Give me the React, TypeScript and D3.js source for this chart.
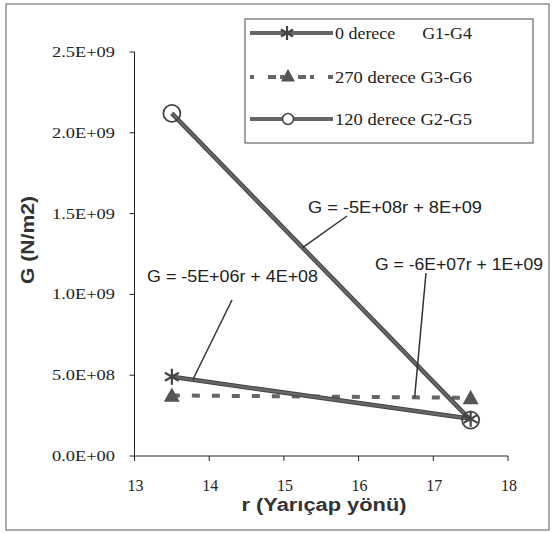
import React from "react";
import * as d3 from "d3";

const xTicks = [13, 14, 15, 16, 17, 18];
const yTicks = [0, 5e8, 1e9, 1.5e9, 2e9, 2.5e9];
const yTickLabels = ["0.0E+00", "5.0E+08", "1.0E+09", "1.5E+09", "2.0E+09", "2.5E+09"];

const rValues = [13.5, 17.5];
const g0 = [4.9e8, 2.3e8]; // 0 derece G1-G4
const g270 = [3.75e8, 3.6e8]; // 270 derece G3-G6
const g120 = [2.12e9, 2.22e8]; // 120 derece G2-G5

const seriesNames = ["0 derece      G1-G4", "270 derece G3-G6", "120 derece G2-G5"];

const annotations = [
  { text: "G = -5E+08r + 8E+09", tx: 308, ty: 213, w: 174, from: [347, 216], toR: 15.25, series: 2 },
  { text: "G = -5E+06r + 4E+08", tx: 147, ty: 282, w: 171, from: [232, 300], toR: 13.78, series: 0 },
  { text: "G = -6E+07r + 1E+09", tx: 375, ty: 270, w: 168, from: [426, 273], toR: 16.75, series: 1 },
];

const GRAY = "#666";
const DARK = "#444";

function Star({ x, y, s }: { x: number; y: number; s: number }) {
  const arms = [0, 60, 120];
  return (
    <g stroke={DARK} strokeWidth={2.2}>
      {arms.map((a) => {
        const r = (a * Math.PI) / 180;
        const dx = Math.sin(r) * s;
        const dy = Math.cos(r) * s;
        return <line key={a} x1={x - dx} y1={y - dy} x2={x + dx} y2={y + dy} />;
      })}
    </g>
  );
}

function Tri({ x, y, s }: { x: number; y: number; s: number }) {
  return <path d={`M${x},${y - s}L${x + s},${y + s * 0.8}L${x - s},${y + s * 0.8}Z`} fill="#555" />;
}

export default function App() {
  const x = d3.scaleLinear().domain([13, 18]).range([134.5, 508]);
  const y = d3.scaleLinear().domain([0, 2.5e9]).range([456, 52]);
  const line = d3
    .line<number>()
    .x((_, i) => x(rValues[i]))
    .y((d) => y(d));
  const seriesData = [g0, g270, g120];
  const serif = "'Liberation Serif', 'Times New Roman', serif";
  const sans = "'Liberation Sans', Arial, sans-serif";

  const valAt = (s: number, r: number) => {
    const d = seriesData[s];
    const t = (r - rValues[0]) / (rValues[1] - rValues[0]);
    return d[0] + (d[1] - d[0]) * t;
  };

  return (
    <svg width={553} height={533} style={{ position: "absolute", left: 0, top: 0 }}>
      <rect x={0} y={0} width={553} height={533} fill="white" />
      <rect x={6} y={4} width={543} height={526} fill="none" stroke="#777" strokeWidth={1.2} />
      {/* axes */}
      <line x1={x(13)} y1={y(0)} x2={x(13)} y2={y(2.5e9)} stroke="#222" strokeWidth={1} />
      <line x1={x(13)} y1={y(0)} x2={x(18)} y2={y(0)} stroke="#222" strokeWidth={1} />
      {yTicks.map((t, i) => (
        <g key={t}>
          <line x1={x(13) - 5} x2={x(13)} y1={y(t)} y2={y(t)} stroke="#222" />
          <text
            x={115}
            y={y(t) + 5}
            textAnchor="end"
            fontFamily={serif}
            fontSize={15}
            textLength={63}
            lengthAdjust="spacingAndGlyphs"
            fill="#222"
          >
            {yTickLabels[i]}
          </text>
        </g>
      ))}
      {xTicks.map((t) => (
        <g key={t}>
          <line x1={x(t)} x2={x(t)} y1={y(0)} y2={y(0) + 5} stroke="#222" />
          <text x={x(t) + 1} y={491} textAnchor="middle" fontFamily={serif} fontSize={16} fill="#222">
            {t}
          </text>
        </g>
      ))}
      <text x={324} y={511} textAnchor="middle" fontFamily={sans} fontWeight="bold" fontSize={18} textLength={165} lengthAdjust="spacingAndGlyphs" fill="#333">
        r (Yarıçap yönü)
      </text>
      <text
        transform="translate(34,240) rotate(-90)"
        textAnchor="middle"
        fontFamily={sans}
        fontWeight="bold"
        fontSize={18}
        textLength={88}
        lengthAdjust="spacingAndGlyphs"
        fill="#333"
      >
        G (N/m2)
      </text>

      {/* series lines */}
      <path d={line(g270) || ""} fill="none" stroke={GRAY} strokeWidth={4} strokeDasharray="8 12" />
      <path d={line(g0) || ""} fill="none" stroke={DARK} strokeWidth={4.5} />
      <path d={line(g0) || ""} fill="none" stroke={GRAY} strokeWidth={2.5} />
      <path d={line(g120) || ""} fill="none" stroke={DARK} strokeWidth={4.5} />
      <path d={line(g120) || ""} fill="none" stroke={GRAY} strokeWidth={2.5} />

      {/* markers */}
      {rValues.map((r, i) => (
        <Tri key={"t" + i} x={x(r)} y={y(g270[i])} s={8} />
      ))}
      {rValues.map((r, i) => (
        <Star key={"s" + i} x={x(r)} y={y(g0[i])} s={8} />
      ))}
      {rValues.map((r, i) => (
        <circle key={"c" + i} cx={x(r)} cy={y(g120[i])} r={8.5} fill="none" stroke={DARK} strokeWidth={1.8} />
      ))}

      {/* annotations */}
      {annotations.map((a) => (
        <g key={a.text}>
          <line x1={a.from[0]} y1={a.from[1]} x2={x(a.toR)} y2={y(valAt(a.series, a.toR))} stroke="#333" strokeWidth={1.5} />
          <text x={a.tx} y={a.ty} fontFamily={sans} fontSize={16} textLength={a.w} lengthAdjust="spacingAndGlyphs" fill="#222">
            {a.text}
          </text>
        </g>
      ))}

      {/* legend */}
      <rect x={245} y={19} width={288} height={124} fill="white" stroke="#666" strokeWidth={1.2} />
      {seriesNames.map((name, i) => {
        const ly = [33, 77, 119][i];
        return (
          <g key={name}>
            {i === 1 ? (
              <line x1={250} x2={333} y1={ly} y2={ly} stroke={GRAY} strokeWidth={4} strokeDasharray="4 14 8 4" />
            ) : (
              <line x1={250} x2={333} y1={ly} y2={ly} stroke={GRAY} strokeWidth={4} />
            )}
            {i === 0 && <Star x={287} y={ly} s={7} />}
            {i === 1 && <Tri x={288} y={ly - 1} s={7} />}
            {i === 2 && <circle cx={288} cy={ly} r={5.5} fill="white" stroke={DARK} strokeWidth={1.5} />}
            <text x={335} y={ly + 6} fontFamily={serif} fontSize={17} textLength={137} lengthAdjust="spacingAndGlyphs" fill="#222" style={{ whiteSpace: "pre" }}>
              {name}
            </text>
          </g>
        );
      })}
    </svg>
  );
}
